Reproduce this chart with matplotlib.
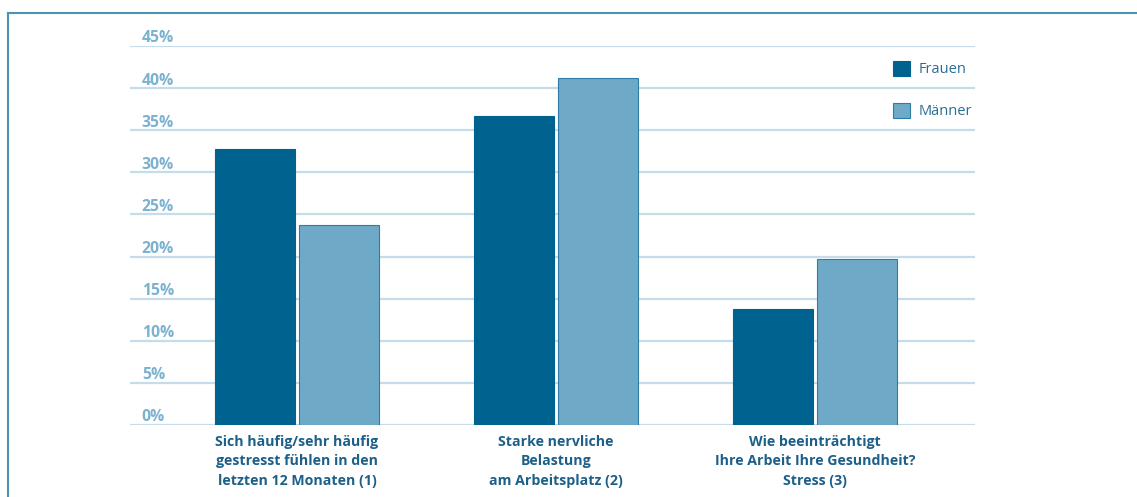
import matplotlib
matplotlib.use("Agg")
import matplotlib.pyplot as plt
import matplotlib.transforms as mtransforms
from matplotlib.lines import Line2D
import numpy as np

# data
categories = [
    "Sich häufig/sehr häufig\ngestresst fühlen in den\nletzten 12 Monaten (1)",
    "Starke nervliche\nBelastung\nam Arbeitsplatz (2)",
    "Wie beeinträchtigt\nIhre Arbeit Ihre Gesundheit?\nStress (3)",
]
frauen = [32.8, 36.7, 13.8]
maenner = [23.8, 41.2, 19.7]
yticks = [0, 5, 10, 15, 20, 25, 30, 35, 40, 45]
ytick_labels = [f"{t}%" for t in yticks]

DARK = "#00638f"
LIGHT = "#6eaac8"
GRID = "#c6dceb"
TICKCOL = "#7ab2cf"
LABCOL = "#1c5f89"
FRAME = "#4a93b3"

plt.rcParams['font.family'] = ['Open Sans', 'DejaVu Sans']

fig = plt.figure(figsize=(11.37, 4.97), dpi=100)
ax = fig.add_axes([0.1143, 0.1449, 0.7432, 0.7625])

x = np.arange(len(categories))
w = 0.309
off = 0.161
ax.bar(x - off, frauen, width=w, color=DARK, edgecolor=DARK, linewidth=0.8,
       label="Frauen", zorder=3)
ax.bar(x + off, maenner, width=w, color=LIGHT, edgecolor="#2f7ca6", linewidth=0.8,
       label="Männer", zorder=3)

ax.set_xlim(-0.645, 2.618)
ax.set_ylim(0, 45)

# gridlines with labels sitting above them
for t in yticks:
    ax.axhline(t, color=GRID, linewidth=1.6, zorder=1)
ax.set_yticks([])
trans = mtransforms.blended_transform_factory(ax.transAxes, ax.transData)
offset = mtransforms.ScaledTranslation(0, 2.6 / 72, fig.dpi_scale_trans)
for t, lab in zip(yticks, ytick_labels):
    ax.text(0.014, t, lab, transform=trans + offset, ha="left", va="baseline",
            fontsize=11.3, fontweight="bold", color=TICKCOL)

ax.set_xticks(x)
ax.set_xticklabels(categories, fontsize=10.2, fontweight="bold", color=LABCOL,
                   linespacing=1.5)
ax.tick_params(axis="x", length=0, pad=7)
for s in ax.spines.values():
    s.set_visible(False)

leg = ax.legend(loc="upper right", bbox_to_anchor=(1.012, 0.995), frameon=False,
                fontsize=10.5, handlelength=1.2, handleheight=1.2,
                labelspacing=1.75, handletextpad=0.55)
for txt in leg.get_texts():
    txt.set_color("#2a6e96")

# outer frame (top and left edge)
fig.add_artist(Line2D([8 / 1137, 1.0], [1 - 13 / 497, 1 - 13 / 497],
                      transform=fig.transFigure, color=FRAME, linewidth=1.5))
fig.add_artist(Line2D([8 / 1137, 8 / 1137], [0, 1 - 13 / 497],
                      transform=fig.transFigure, color=FRAME, linewidth=1.5))

fig.savefig("out.png", dpi=100)
